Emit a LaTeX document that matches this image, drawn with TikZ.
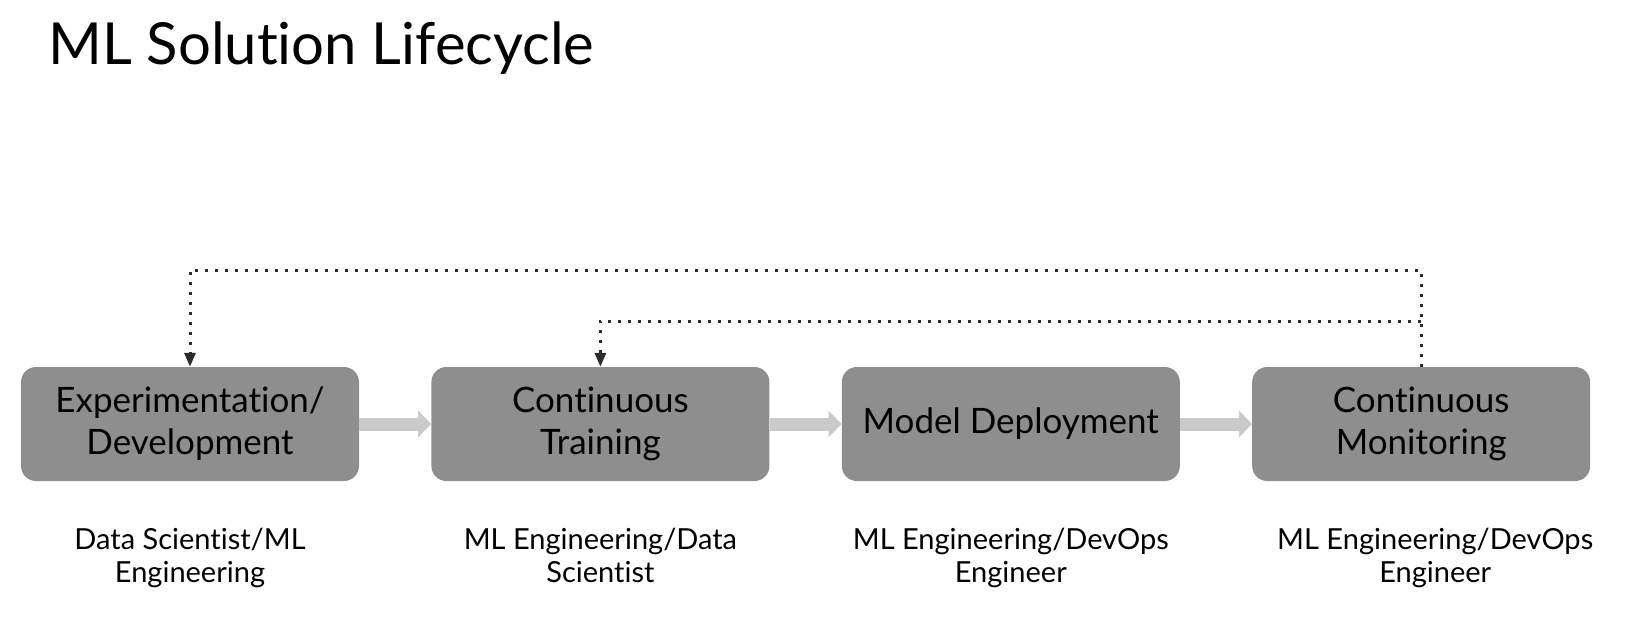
\documentclass[tikz,border=0pt]{standalone}
\usepackage{fontspec}
\setmainfont{Lato}[Ligatures=NoCommon]
\usetikzlibrary{positioning,arrows.meta}

\definecolor{boxgray}{HTML}{8E8E8E}
\definecolor{flowgray}{HTML}{CACACA}
\definecolor{loopgray}{HTML}{2B2B2B}

\begin{document}
\begin{tikzpicture}[x=1pt, y=-1pt,
      stage/.style = {shape=rectangle, rounded corners=15pt, fill=boxgray,
        minimum width=338pt, minimum height=114pt, align=center,
        inner sep=0pt, font=\fontsize{35}{42}\selectfont},
      role/.style = {align=center, inner sep=0pt,
        font=\fontsize{29}{33}\selectfont},
      flow/.style = {draw=flowgray, line width=13pt,
        -{Triangle[length=13pt,width=26pt]}},
      loop/.style = {draw=loopgray, line width=3pt,
        dash pattern=on 3pt off 7pt, -{Triangle[length=14pt,width=11pt]}}]
  \useasboundingbox (0,0) rectangle (1628,624);
  \node[anchor=base west, inner sep=0pt, font=\fontsize{58}{70}\selectfont]
    (title) at (48,64) {ML Solution Lifecycle};

  % lifecycle stages
  \node[stage] (exp) at (190,424) {Experimentation/\\Development};
  \node[stage, right=72pt of exp] (train) {Continuous\\Training};
  \node[stage, right=72pt of train] (deploy) {Model Deployment};
  \node[stage, right=72pt of deploy] (monitor) {Continuous\\Monitoring};

  % who owns each stage
  \node[role, below=47pt of exp] (expRole) {Data Scientist/ML\\Engineering};
  \node[role, below=47pt of train] (trainRole) {ML Engineering/Data\\Scientist};
  \node[role, below=47pt of deploy] (deployRole) {ML Engineering/DevOps\\Engineer};
  \node[role, below=47pt of monitor, xshift=14pt] (monitorRole) {ML Engineering/DevOps\\Engineer};

  \draw[flow] (exp) -- (train);
  \draw[flow] (train) -- (deploy);
  \draw[flow] (deploy) -- (monitor);

  % feedback loops
  \coordinate (loopTop) at (0,270);
  \coordinate (loopMid) at (0,321);
  \draw[loop] (monitor.north) -- (monitor.north |- loopTop)
    -- (exp.north |- loopTop) -- (exp.north);
  \draw[loop] (monitor.north |- loopMid) -- (train.north |- loopMid)
    -- (train.north);
\end{tikzpicture}
\end{document}
